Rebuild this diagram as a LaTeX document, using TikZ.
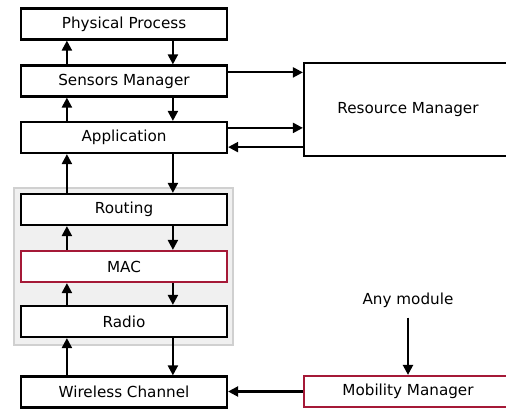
\documentclass[tikz,border=0pt]{standalone}
\usepackage{fontspec}
\setmainfont{DejaVu Sans}
\usetikzlibrary{arrows.meta,calc}
\definecolor{modred}{RGB}{165,25,55}
\definecolor{bggray}{RGB}{240,240,240}
\definecolor{bgline}{RGB}{208,208,208}
\begin{document}
\begin{tikzpicture}[x=1pt,y=-1pt,
  every node/.style={font=\fontsize{15.2}{18}\selectfont},
  mod/.style={draw=black,line width=2.2pt,fill=white,rectangle,minimum width=206pt,minimum height=31pt,inner sep=0pt},
  modr/.style={mod,draw=modred},
  arr/.style={line width=2.2pt,-{Triangle[length=10pt,width=10pt]}}]
\useasboundingbox (0,0) rectangle (506,412);
\clip (0,0) rectangle (506,412);
\draw[fill=bggray,draw=bgline,line width=2.2pt] (14,188) rectangle (233,345);
\node[mod] (pp) at (124,24) {Physical Process};
\node[mod] (sm) at (124,81) {Sensors Manager};
\node[mod] (app) at (124,137.5) {Application};
\node[mod] (rout) at (124,209.5) {Routing};
\node[modr] (mac) at (124,266.5) {MAC};
\node[mod] (radio) at (124,321.5) {Radio};
\node[mod] (wc) at (124,392) {Wireless Channel};
\node[mod,minimum width=208pt,minimum height=93pt] (rm) at (408,109.5) {Resource Manager};
\node[modr,minimum width=208pt] (mm) at (408,391.5) {Mobility Manager};
\node[inner sep=0pt] (any) at (408,300) {Any module};
% vertical arrows
\foreach \lo/\hi in {sm/pp,app/sm,rout/app,mac/rout,radio/mac,wc/radio}{
  \draw[arr] ([xshift=47pt]\lo.north west) -- ([xshift=47pt]\hi.south west);
  \draw[arr] ([xshift=153pt]\hi.south west) -- ([xshift=153pt]\lo.north west);
}
% horizontal arrows
\coordinate (s1) at ([yshift=-8pt]sm.north east);
\draw[arr] (s1) -- (s1 -| rm.west);
\coordinate (a1) at ([yshift=-7pt]app.north east);
\draw[arr] (a1) -- (a1 -| rm.west);
\coordinate (a2) at ([yshift=7pt]app.south east);
\draw[arr] (a2 -| rm.west) -- (a2);
\draw[arr] (mm.west) -- (mm.west -| wc.east);
\draw[arr] ([yshift=-10pt]any.south) -- (mm.north);
\end{tikzpicture}
\end{document}
